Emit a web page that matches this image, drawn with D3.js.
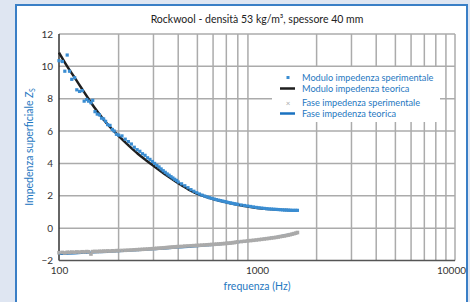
<!DOCTYPE html>
<html>
<head>
<meta charset="utf-8">
<script src="https://cdn.jsdelivr.net/npm/d3@7"></script>
<style>
  body { margin: 0; background: #dfe6f2; }
  svg { display: block; font-family: Lato, "Open Sans", sans-serif; }
</style>
</head>
<body>
<div id="chart-area"></div>
<script>
// frequencies of the measured points (Hz)
var freqExp = [100,104,107,110,113,116,120,123,127,131,134,138,141,145,148,152,156,160,164,168,172,176,181,186,190,195,200,
  208,216,224,232,240,248,256,264,272,280,288,296,304,312,320,328,336,344,352,360,368,376,384,392,400,
  416,432,448,464,480,496,512,528,544,560,576,592,608,624,640,656,672,688,704,720,736,752,768,784,800,
  832,864,896,928,960,992,1024,1056,1088,1120,1152,1184,1216,1248,1280,1312,1344,1376,1408,1440,1472,1504,1536,1568,1600];

var moduloExp = [10.35,10.3,9.7,10.7,9.7,9.2,9.3,8.55,8.45,8.5,7.85,7.95,7.85,7.75,7.9,7.2,7.05,7.0,6.8,6.75,6.6,6.4,6.35,6.1,6.0,5.8,5.75,
  5.7,5.5,5.35,5.2,5.0,4.85,4.75,4.6,4.5,4.35,4.25,4.12,4.0,3.88,3.78,3.66,3.55,3.45,3.35,3.27,3.18,3.1,3.02,2.95,2.85,
  2.74,2.62,2.5,2.38,2.28,2.19,2.11,2.04,1.98,1.93,1.88,1.84,1.8,1.76,1.73,1.7,1.67,1.64,1.61,1.58,1.56,1.53,1.51,1.49,1.47,
  1.43,1.4,1.37,1.34,1.31,1.28,1.26,1.24,1.22,1.2,1.19,1.18,1.17,1.16,1.15,1.14,1.13,1.12,1.12,1.11,1.11,1.1,1.1,1.1,1.1];

var faseExp = [-1.52,-1.5,-1.53,-1.49,-1.5,-1.48,-1.49,-1.47,-1.48,-1.46,-1.47,-1.45,-1.46,-1.6,-1.45,-1.44,-1.45,-1.43,-1.44,-1.42,-1.43,-1.41,-1.42,-1.4,-1.41,-1.39,-1.39,
  -1.38,-1.37,-1.36,-1.35,-1.34,-1.33,-1.32,-1.31,-1.3,-1.29,-1.28,-1.27,-1.26,-1.25,-1.24,-1.23,-1.22,-1.21,-1.2,-1.19,-1.18,-1.17,-1.16,-1.15,-1.14,
  -1.13,-1.11,-1.1,-1.09,-1.08,-1.07,-1.06,-1.05,-1.04,-1.03,-1.02,-1.01,-1.0,-0.99,-0.98,-0.97,-0.96,-0.95,-0.94,-0.93,-0.92,-0.9,-0.89,-0.87,-0.85,
  -0.83,-0.81,-0.79,-0.77,-0.75,-0.73,-0.71,-0.69,-0.67,-0.65,-0.63,-0.61,-0.59,-0.57,-0.55,-0.52,-0.5,-0.48,-0.45,-0.43,-0.4,-0.37,-0.34,-0.31,-0.27];

// theoretical curves
var freqTh = [100,110,120,130,140,150,160,175,200,225,250,275,300,350,400,450,500,550,600,700,800,900,1000,1200,1400,1600];
var moduloTh = [10.85,10.0,9.3,8.65,8.05,7.5,7.05,6.45,5.7,5.1,4.6,4.2,3.85,3.25,2.78,2.4,2.12,1.95,1.8,1.6,1.45,1.33,1.25,1.16,1.12,1.1];
var faseTh = [-1.6,-1.58,-1.56,-1.54,-1.52,-1.5,-1.49,-1.47,-1.43,-1.4,-1.37,-1.34,-1.31,-1.26,-1.2,-1.16,-1.12,-1.08,-1.04,-0.97,-0.88,-0.8,-0.73,-0.58,-0.43,-0.3];

var yTicks = [-2, 0, 2, 4, 6, 8, 10, 12];
var xTicks = [100, 1000, 10000];
var legendLabels = ['Modulo impedenza sperimentale', 'Modulo impedenza teorica',
                    'Fase impedenza sperimentale', 'Fase impedenza teorica'];

var blue = '#3a8dd2', textBlue = '#1f78c1', grid = '#ababab';

var svg = d3.select('#chart-area')
    .append('svg')
    .attr('width', 470)
    .attr('height', 302);

// panel
svg.append('rect')
    .attr('x', 16).attr('y', 5)
    .attr('width', 451).attr('height', 310)
    .attr('fill', 'white')
    .attr('stroke', '#3a7fc6')
    .attr('stroke-width', 2);

var x = d3.scaleLog().domain([100, 10000]).range([59, 455]);
var y = d3.scaleLinear().domain([-2, 12]).range([260.5, 34]);

// grid
var vGrid = [];
[100, 1000].forEach(function(d) {
    for (var i = 2; i <= 9; i++) vGrid.push(d * i);
});
svg.append('g').selectAll('line')
    .data(vGrid.concat([10000]))
    .enter().append('line')
    .attr('x1', function(d) { return x(d); })
    .attr('x2', function(d) { return x(d); })
    .attr('y1', y(12)).attr('y2', y(-2))
    .attr('stroke', grid).attr('stroke-width', 1.5);

svg.append('g').selectAll('line')
    .data(yTicks.slice(1))
    .enter().append('line')
    .attr('x1', x(100)).attr('x2', x(10000))
    .attr('y1', function(d) { return y(d); })
    .attr('y2', function(d) { return y(d); })
    .attr('stroke', grid).attr('stroke-width', 1.5);

// axes lines
svg.append('line')
    .attr('x1', x(100)).attr('x2', x(100))
    .attr('y1', y(12)).attr('y2', y(-2))
    .attr('stroke', '#333').attr('stroke-width', 1.5);
svg.append('line')
    .attr('x1', x(100)).attr('x2', x(10000))
    .attr('y1', y(-2)).attr('y2', y(-2))
    .attr('stroke', '#555').attr('stroke-width', 1.5);

// tick labels
var yAxis = svg.append('g')
    .attr('transform', 'translate(' + (x(100) - 6) + ',0)')
    .call(d3.axisLeft(y).tickValues(yTicks).tickSize(0).tickPadding(0));
yAxis.select('.domain').remove();
yAxis.selectAll('text').attr('font-size', '10px').attr('fill', '#333')
    .attr('font-family', 'Lato, sans-serif');

var xAxis = svg.append('g')
    .attr('transform', 'translate(0,' + (y(-2) + 6) + ')')
    .call(d3.axisBottom(x).tickValues(xTicks).tickFormat(d3.format('d')).tickSize(0).tickPadding(0));
xAxis.select('.domain').remove();
xAxis.selectAll('text').attr('font-size', '10px').attr('fill', '#333')
    .attr('font-family', 'Lato, sans-serif')
    .attr('dx', function(d) { return d === 10000 ? -4 : 0; });

// data
var lineGen = d3.line()
    .x(function(d) { return x(d[0]); })
    .y(function(d) { return y(d[1]); })
    .curve(d3.curveMonotoneX);

svg.append('path')
    .datum(freqTh.map(function(f, i) { return [f, moduloTh[i]]; }))
    .attr('d', lineGen)
    .attr('fill', 'none').attr('stroke', '#1e1e1e').attr('stroke-width', 2.5);

svg.append('g').selectAll('rect')
    .data(freqExp.map(function(f, i) { return [f, moduloExp[i]]; }))
    .enter().append('rect')
    .attr('x', function(d) { return x(d[0]) - 1.6; })
    .attr('y', function(d) { return y(d[1]) - 1.6; })
    .attr('width', 3.2).attr('height', 3.2)
    .attr('fill', blue);

svg.append('path')
    .datum(freqTh.map(function(f, i) { return [f, faseTh[i]]; }))
    .attr('d', lineGen)
    .attr('fill', 'none').attr('stroke', '#1a72c0').attr('stroke-width', 2);

svg.append('g').selectAll('rect')
    .data(freqExp.map(function(f, i) { return [f, faseExp[i]]; }))
    .enter().append('rect')
    .attr('x', function(d) { return x(d[0]) - 1.8; })
    .attr('y', function(d) { return y(d[1]) - 1.8; })
    .attr('width', 3.6).attr('height', 3.6)
    .attr('fill', '#aaaaaa');

// legend
var legend = svg.append('g');
legend.append('rect')
    .attr('x', 272).attr('y', 67).attr('width', 168).attr('height', 55)
    .attr('fill', 'white');
var legY = [77.5, 88.5, 103, 113.5];
legend.append('rect').attr('x', 286.5).attr('y', legY[0] - 1.5).attr('width', 3).attr('height', 3).attr('fill', blue);
legend.append('line').attr('x1', 280).attr('x2', 295).attr('y1', legY[1]).attr('y2', legY[1])
    .attr('stroke', '#1e1e1e').attr('stroke-width', 2.5);
legend.append('text').attr('x', 288).attr('y', legY[2] + 3).attr('text-anchor', 'middle')
    .attr('font-size', '8px').attr('fill', '#aaa').text('×');
legend.append('line').attr('x1', 280).attr('x2', 295).attr('y1', legY[3]).attr('y2', legY[3])
    .attr('stroke', '#1a72c0').attr('stroke-width', 2.5);
legend.selectAll('text.lab')
    .data(legendLabels)
    .enter().append('text')
    .attr('class', 'lab')
    .attr('x', 302)
    .attr('y', function(d, i) { return legY[i] + 3.2; })
    .attr('font-size', '9.2px')
    .attr('fill', textBlue)
    .text(function(d) { return d; });

// titles
svg.append('text')
    .attr('x', 257).attr('y', 23)
    .attr('text-anchor', 'middle')
    .attr('font-size', '10.5px')
    .attr('fill', '#222')
    .text('Rockwool - densità 53 kg/m³, spessore 40 mm');

svg.append('text')
    .attr('x', 257).attr('y', 290)
    .attr('text-anchor', 'middle')
    .attr('font-size', '10.5px')
    .attr('fill', textBlue)
    .text('frequenza (Hz)');

var yLab = svg.append('text')
    .attr('transform', 'translate(33,' + 147 + ') rotate(-90)')
    .attr('text-anchor', 'middle')
    .attr('font-size', '10.5px')
    .attr('fill', textBlue);
yLab.append('tspan').text('Impedenza superficiale ');
yLab.append('tspan').attr('font-style', 'italic').text('Z');
yLab.append('tspan').attr('font-size', '7px').attr('dy', 2).text('S');
</script>
</body>
</html>
